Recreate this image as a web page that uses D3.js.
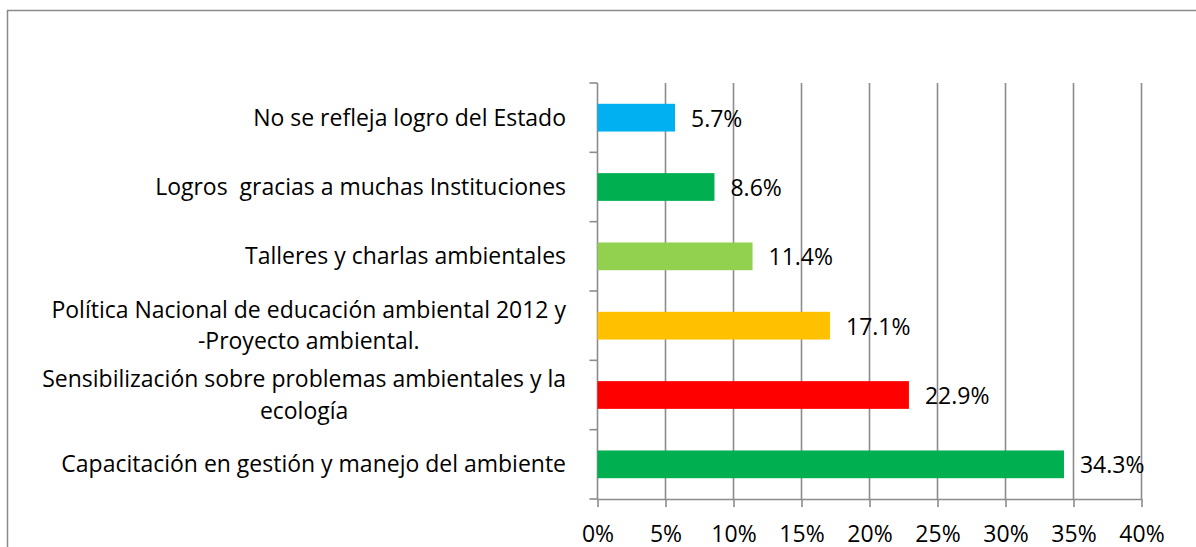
<!DOCTYPE html>
<html>
<head>
<meta charset="utf-8">
<script src="https://cdn.jsdelivr.net/npm/d3@7"></script>
<style>
  body { margin: 0; background: #fff; }
  svg { display: block; }
  text { font-family: "Open Sans", sans-serif; fill: #000; }
</style>
</head>
<body>
<div id="chart"></div>
<script>
// categories, top to bottom (wrapped lines as in the original)
var categories = [
  ["No se refleja logro del Estado"],
  ["Logros  gracias a muchas Instituciones"],
  ["Talleres y charlas ambientales"],
  ["Política Nacional de educación ambiental 2012 y", "-Proyecto ambiental."],
  ["Sensibilización sobre problemas ambientales y la", "ecología"],
  ["Capacitación en gestión y manejo del ambiente"]
];
var values = [5.7, 8.6, 11.4, 17.1, 22.9, 34.3];
var barColors = ["#00B0F0", "#00B050", "#92D050", "#FFC000", "#FF0000", "#00B050"];
var tickValues = [0, 5, 10, 15, 20, 25, 30, 35, 40];

var W = 1196, H = 547;
var gridColor = "#8c8c8c";

var svg = d3.select("#chart").append("svg")
    .attr("width", W)
    .attr("height", H);

// fit font size so the text width is close to the original (Calibri-like)
var probe = svg.append("text").style("font-size", "100px").text("No se refleja logro del Estado");
var fontSize = 100 * 313 / probe.node().getComputedTextLength();
probe.remove();

// outer chart frame (runs off the right and bottom of the picture)
svg.append("rect")
    .attr("x", 7.5).attr("y", 10.5)
    .attr("width", W + 20).attr("height", H + 20)
    .attr("fill", "none")
    .attr("stroke", "#8a8a8a")
    .attr("stroke-width", 1.5);

var keys = categories.map(function(d, i) { return "c" + i; });

var x = d3.scaleLinear().domain([0, 40]).range([597.5, 1141.5]);
var y = d3.scaleBand().domain(keys).range([83, 499]).paddingInner(0.6).paddingOuter(0.3);

// vertical gridlines
svg.append("g").selectAll("line")
    .data(tickValues)
    .enter().append("line")
    .attr("x1", function(d) { return x(d); })
    .attr("x2", function(d) { return x(d); })
    .attr("y1", 83).attr("y2", 499)
    .attr("stroke", gridColor)
    .attr("stroke-width", 1.6);

// category axis ticks (between categories)
var step = y.step();
svg.append("g").selectAll("line")
    .data(d3.range(keys.length + 1))
    .enter().append("line")
    .attr("x1", x(0) - 8).attr("x2", x(0))
    .attr("y1", function(i) { return 83 + i * step; })
    .attr("y2", function(i) { return 83 + i * step; })
    .attr("stroke", gridColor)
    .attr("stroke-width", 1.6);

// bottom axis
var xAxis = svg.append("g")
    .attr("transform", "translate(0,499)")
    .call(d3.axisBottom(x).tickValues(tickValues).tickFormat(function(d) { return d + "%"; })
        .tickSize(8).tickSizeOuter(0));
xAxis.select(".domain").attr("stroke", gridColor).attr("stroke-width", 1.6);
xAxis.selectAll(".tick line").attr("stroke", gridColor).attr("stroke-width", 1.6);
xAxis.selectAll(".tick text")
    .attr("y", 42.5).attr("dy", null)
    .style("font-size", fontSize + "px")
    .style("font-family", '"Open Sans", sans-serif')
    .attr("fill", "#000");

// bars
svg.append("g").selectAll("rect")
    .data(values)
    .enter().append("rect")
    .attr("x", x(0))
    .attr("y", function(d, i) { return y(keys[i]); })
    .attr("width", function(d) { return x(d) - x(0); })
    .attr("height", y.bandwidth())
    .attr("fill", function(d, i) { return barColors[i]; });

// value labels
svg.append("g").selectAll("text")
    .data(values)
    .enter().append("text")
    .attr("x", function(d) { return x(d) + 16; })
    .attr("y", function(d, i) { return y(keys[i]) + y.bandwidth() / 2 + 9; })
    .style("font-size", fontSize + "px")
    .text(function(d) { return d.toFixed(1) + "%"; });

// category labels
var labelRight = 566;
var lineGap = 31.5;
var labels = svg.append("g");
categories.forEach(function(lines, i) {
  var cy = y(keys[i]) + y.bandwidth() / 2;
  var first = cy + 8 - (lines.length - 1) * lineGap / 2;
  if (lines.length === 1) {
    labels.append("text")
        .attr("x", labelRight).attr("y", first)
        .attr("text-anchor", "end")
        .style("font-size", fontSize + "px")
        .style("white-space", "pre")
        .text(lines[0]);
  } else {
    var t = labels.append("text")
        .attr("text-anchor", "middle")
        .style("font-size", fontSize + "px");
    var spans = lines.map(function(s, k) {
      return t.append("tspan").attr("y", first + k * lineGap).text(s);
    });
    var maxW = d3.max(spans, function(s) { return s.node().getComputedTextLength(); });
    spans.forEach(function(s) { s.attr("x", labelRight - maxW / 2); });
  }
});
</script>
</body>
</html>
